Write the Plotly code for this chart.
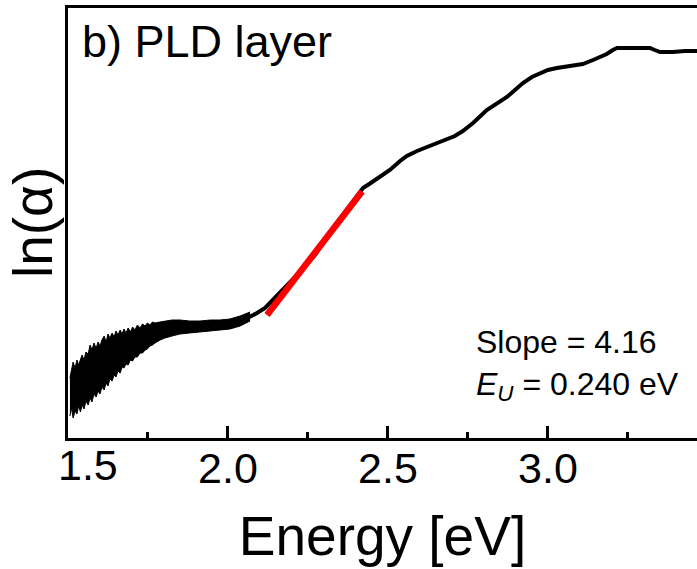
import plotly.graph_objects as go

# ---- data (energy in eV, ln(alpha) in arbitrary ln units) ----
energy = [1.509, 1.538, 1.569, 1.622, 1.672, 1.725, 1.756, 1.809, 1.859, 1.913,
          1.966, 2.006, 2.038, 2.069, 2.091, 2.116, 2.141, 2.178, 2.225, 2.272,
          2.328, 2.366, 2.397, 2.422, 2.444, 2.475, 2.506, 2.538, 2.559, 2.591,
          2.622, 2.653, 2.684, 2.709, 2.734, 2.766, 2.809, 2.841, 2.872, 2.897,
          2.922, 2.950, 2.975, 3.000, 3.028, 3.053, 3.078, 3.109, 3.141, 3.163,
          3.184, 3.203, 3.216, 3.250, 3.288, 3.319, 3.334, 3.350, 3.391, 3.428, 3.466]
ln_alpha = [9.50, 9.53, 9.66, 9.76, 9.88, 9.96, 10.05, 10.10, 10.11, 10.12,
            10.12, 10.13, 10.16, 10.21, 10.25, 10.30, 10.38, 10.50, 10.66, 10.83,
            11.10, 11.26, 11.40, 11.50, 11.545, 11.61, 11.68, 11.77, 11.82, 11.87,
            11.91, 11.94, 11.98, 12.02, 12.07, 12.15, 12.28, 12.35, 12.41, 12.48,
            12.55, 12.61, 12.65, 12.68, 12.70, 12.71, 12.72, 12.74, 12.78, 12.81,
            12.84, 12.88, 12.90, 12.90, 12.90, 12.90, 12.88, 12.86, 12.86, 12.87, 12.87]

# noisy low-energy region: upper / lower envelope of the scatter
noise_energy = [1.506, 1.511, 1.516, 1.522, 1.528, 1.533, 1.539, 1.544, 1.550, 1.556,
                1.563, 1.569, 1.575, 1.581, 1.588, 1.594, 1.600, 1.606, 1.613, 1.619,
                1.625, 1.631, 1.638, 1.644, 1.650, 1.656, 1.663, 1.669, 1.675, 1.681,
                1.688, 1.695, 1.702, 1.709, 1.717, 1.725, 1.733, 1.741, 1.748, 1.756,
                1.764, 1.772, 1.788, 1.803, 1.825, 1.850, 1.880, 1.913, 1.945, 1.975,
                2.006, 2.038, 2.069]
noise_upper = [9.60, 9.70, 9.76, 9.70, 9.78, 9.73, 9.80, 9.83, 9.78, 9.86,
               9.84, 9.93, 9.88, 9.95, 9.90, 9.96, 9.92, 9.98, 10.02, 9.96,
               10.04, 10.00, 10.05, 10.01, 10.07, 10.03, 10.08, 10.04, 10.09, 10.05,
               10.10, 10.06, 10.11, 10.08, 10.13, 10.10, 10.14, 10.12, 10.15, 10.13,
               10.16, 10.15, 10.16, 10.17, 10.18, 10.18, 10.17, 10.17, 10.18, 10.18,
               10.19, 10.22, 10.26]
noise_lower = [9.22, 9.30, 9.20, 9.27, 9.24, 9.32, 9.26, 9.33, 9.29, 9.37,
               9.33, 9.40, 9.36, 9.44, 9.41, 9.47, 9.44, 9.51, 9.48, 9.55,
               9.52, 9.59, 9.57, 9.63, 9.61, 9.67, 9.65, 9.71, 9.70, 9.74,
               9.73, 9.78, 9.77, 9.81, 9.81, 9.85, 9.85, 9.88, 9.89, 9.92,
               9.93, 9.95, 9.98, 10.00, 10.02, 10.04, 10.05, 10.06, 10.07, 10.08,
               10.09, 10.12, 10.17]

# linear Urbach fit segment
fit_energy = [2.122, 2.419]
fit_ln_alpha = [10.23, 11.465]

tick_vals = [1.5, 2.0, 2.5, 3.0]
tick_text = ["", "2.0", "2.5", "3.0"]

FONT = "Arial, Liberation Sans, sans-serif"

fig = go.Figure()

fig.add_trace(go.Scatter(x=noise_energy, y=noise_lower, mode="lines",
                         line=dict(color="black", width=1), hoverinfo="skip", showlegend=False))
fig.add_trace(go.Scatter(x=noise_energy, y=noise_upper, mode="lines", fill="tonexty",
                         fillcolor="black", line=dict(color="black", width=1),
                         hoverinfo="skip", showlegend=False))
fig.add_trace(go.Scatter(x=energy, y=ln_alpha, mode="lines",
                         line=dict(color="black", width=4), showlegend=False))
fig.add_trace(go.Scatter(x=fit_energy, y=fit_ln_alpha, mode="lines",
                         line=dict(color="#ff0000", width=6.5), showlegend=False))

fig.update_layout(
    width=697, height=569,
    margin=dict(l=68, r=0, t=8, b=131),
    paper_bgcolor="white", plot_bgcolor="white",
    font=dict(family=FONT, color="black"),
    xaxis=dict(
        range=[1.5, 3.466], showgrid=False, zeroline=False,
        showline=True, linecolor="black", linewidth=3, mirror=True,
        ticks="inside", ticklen=12, tickwidth=2.5, tickcolor="black",
        tickmode="array", tickvals=tick_vals, ticktext=tick_text,
        tickfont=dict(size=43, family=FONT), ticklabelstandoff=-10,
        minor=dict(ticks="inside", ticklen=6, tickwidth=2.5, tickcolor="black",
                   dtick=0.25, tick0=1.5, showgrid=False),
        title=dict(text="Energy [eV]", font=dict(size=55, family=FONT), standoff=26),
    ),
    yaxis=dict(
        range=[9.0, 13.3], showgrid=False, zeroline=False,
        showline=True, linecolor="black", linewidth=3, mirror=False,
        ticks="", showticklabels=False,
    ),
    annotations=[
        dict(text="1.5", x=1.5, y=0, xref="x", yref="paper", xanchor="center",
             yanchor="top", xshift=20, yshift=-1, showarrow=False,
             font=dict(size=43, family=FONT)),
        dict(text="ln(α)", x=0, y=0.5, xref="paper", yref="paper", xanchor="center",
             yanchor="middle", xshift=-35, textangle=-90, showarrow=False,
             font=dict(size=55, family=FONT)),
        dict(text="b) PLD layer", x=0, y=1, xref="paper", yref="paper", xanchor="left",
             yanchor="top", xshift=12, yshift=-6, showarrow=False,
             font=dict(size=45, family=FONT)),
        dict(text="Slope = 4.16<br><i>E</i><sub><i>U</i></sub> = 0.240 eV",
             x=0, y=0, xref="paper", yref="paper", xanchor="left", yanchor="bottom",
             xshift=406, yshift=30, align="left", showarrow=False,
             font=dict(size=32, family=FONT)),
    ],
)

fig.write_html("out.html")
